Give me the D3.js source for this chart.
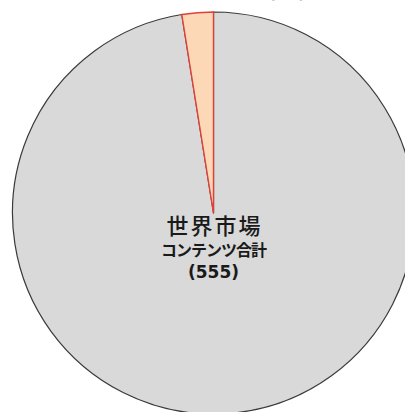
<!DOCTYPE html>
<html>
<head>
<meta charset="utf-8">
<script src="https://cdn.jsdelivr.net/npm/d3@7"></script>
<style>
	html, body { margin: 0; padding: 0; background: #fff; }
	svg { display: block; }
</style>
</head>
<body>
<svg id="chart" width="405" height="412"></svg>
<script>
// slice data
var categories = ['その他', '日本'];
var values = [541, 14];
var total_label = ['世界市場', 'コンテンツ合計', '(555)'];
var top_label = '(14)';

var fills = ['#d9d9d9', '#fdd8b6'];
var strokes = ['#3a3a3a', '#e0403a'];

var svg_d3 = d3.select('#chart');
var cx = 213.5, cy = 213, r = 201;

// small slice ends up just left of 12 o'clock
var pie = d3.pie()
	.sort(null)
	.value((d) => d)
	.startAngle(0)
	.endAngle(2 * Math.PI);

var arcs = pie(values);
var arc = d3.arc().innerRadius(0).outerRadius(r);

var g = svg_d3.append('g')
	.attr('transform', `translate(${cx}, ${cy})`);

g.selectAll('path')
	.data(arcs)
	.enter()
	.append('path')
	.attr('d', arc)
	.attr('fill', (d, i) => fills[i])
	.attr('stroke', (d, i) => strokes[i])
	.attr('stroke-width', (d, i) => i == 0 ? 1.2 : 1.4)
	.attr('stroke-linejoin', 'round');

// label above, mostly cut off by the top edge
svg_d3.append('text')
	.attr('x', 287)
	.attr('y', -2)
	.attr('text-anchor', 'middle')
	.attr('font-family', 'DejaVu Sans, sans-serif')
	.attr('font-weight', 'bold')
	.attr('font-size', 16)
	.attr('fill', '#222')
	.text(top_label);

// centre label
var sizes = [22, 16, 17];
var ys = [234, 256, 278];
var weights = ['500', 'bold', 'bold'];
var families = ['Noto Sans CJK JP, sans-serif', 'Noto Sans CJK JP, sans-serif', 'DejaVu Sans, sans-serif'];
var spacing = [2, -1, 0];
total_label.forEach(function(t, i) {
	g.append('text')
		.attr('x', i == 0 ? 1 : 0)
		.attr('y', ys[i] - cy)
		.attr('text-anchor', 'middle')
		.attr('font-family', families[i])
		.attr('font-weight', weights[i])
		.attr('font-size', sizes[i])
		.attr('letter-spacing', spacing[i])
		.attr('fill', '#1a1a1a')
		.text(t);
});
</script>
</body>
</html>
